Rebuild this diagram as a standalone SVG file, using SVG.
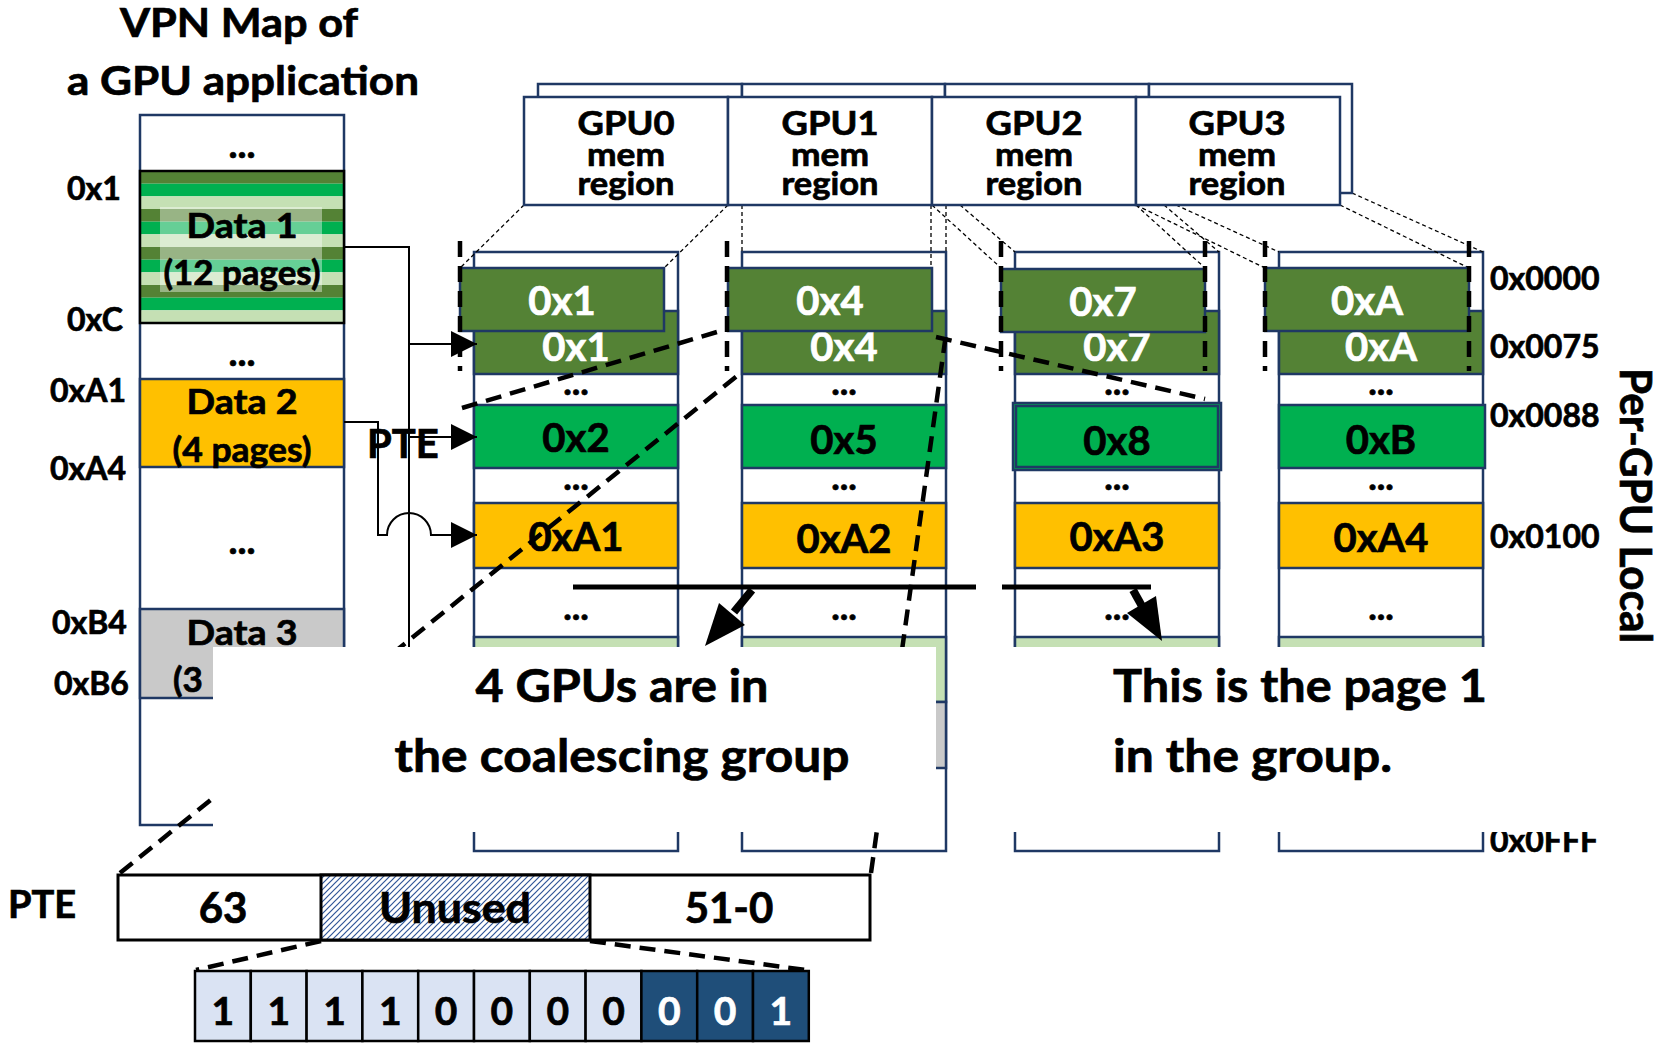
<svg xmlns="http://www.w3.org/2000/svg" width="1665" height="1045" viewBox="0 0 1665 1045">
  <style>
    .t { font-family: Lato, "Open Sans", "Liberation Sans", sans-serif; font-weight: 700; fill: #000; stroke: #000; stroke-width: 0.7; }
    .c { text-anchor: middle; }
    .w { fill: #fff; stroke: #fff; }
    .nb { stroke: #1F3864; stroke-width: 2.5; }
    .dg { fill: #548235; }
    .g { fill: #00B050; }
    .lg { fill: #C5E0B4; }
    .or { fill: #FFC000; }
    .gr { fill: #C9C9C9; }
    .wh { fill: #fff; }
    .thin { stroke: #000; stroke-width: 1.3; stroke-dasharray: 4 3; fill: none; }
    .thick { stroke: #000; stroke-width: 4.5; stroke-dasharray: 16 9; fill: none; }
    .conn { stroke: #000; stroke-width: 2; fill: none; }
    .bit { stroke: #000; stroke-width: 2.5; }
  </style>
  <defs>
    <marker id="ah" markerUnits="userSpaceOnUse" markerWidth="26" markerHeight="26" viewBox="0 0 26 26" refX="26" refY="13" orient="auto">
      <path d="M0,0 L26,13 L0,26 z" fill="#000"/>
    </marker>
    <pattern id="hatch" patternUnits="userSpaceOnUse" width="6" height="6">
      <rect width="6" height="6" fill="#fff"/>
      <path d="M-1,1 L1,-1 M0,6 L6,0 M5,7 L7,5" stroke="#2F5597" stroke-width="1.2"/>
    </pattern>
  </defs>

  <rect width="1665" height="1045" fill="#fff"/>

  <!-- title -->
  <g id="title">
    <text class="t c" x="239" y="37" font-size="40" textLength="238" lengthAdjust="spacingAndGlyphs">VPN Map of</text>
    <text class="t c" x="243" y="95" font-size="41" textLength="352" lengthAdjust="spacingAndGlyphs">a GPU application</text>
  </g>

  <!-- virtual page map of the application -->
  <g id="vpn-map">
    <rect class="wh nb" x="140" y="115" width="204" height="710"/>
    <g id="data1">
      <rect class="dg" x="140" y="171" width="204" height="12.67"/>
      <rect class="g" x="140" y="183.67" width="204" height="12.67"/>
      <rect class="lg" x="140" y="196.33" width="204" height="12.67"/>
      <rect class="dg" x="140" y="209" width="204" height="12.67"/>
      <rect class="g" x="140" y="221.67" width="204" height="12.67"/>
      <rect class="lg" x="140" y="234.33" width="204" height="12.67"/>
      <rect class="dg" x="140" y="247" width="204" height="12.67"/>
      <rect class="g" x="140" y="259.67" width="204" height="12.67"/>
      <rect class="lg" x="140" y="272.33" width="204" height="12.67"/>
      <rect class="dg" x="140" y="285" width="204" height="12.67"/>
      <rect class="g" x="140" y="297.67" width="204" height="12.67"/>
      <rect class="lg" x="140" y="310.33" width="204" height="12.67"/>
      <rect x="140" y="171" width="204" height="152" fill="none" stroke="#000" stroke-width="2.5"/>
      <rect x="160" y="207" width="162" height="85" fill="#fff" fill-opacity="0.4"/>
      <text class="t c" x="242" y="238" font-size="35" textLength="111" lengthAdjust="spacingAndGlyphs">Data 1</text>
      <text class="t c" x="242" y="285" font-size="35" textLength="157" lengthAdjust="spacingAndGlyphs">(12 pages)</text>
    </g>
    <g id="data2">
      <rect class="or nb" x="140" y="379" width="204" height="88"/>
      <text class="t c" x="242" y="414" font-size="35" textLength="111" lengthAdjust="spacingAndGlyphs">Data 2</text>
      <text class="t c" x="242" y="462" font-size="35" textLength="139" lengthAdjust="spacingAndGlyphs">(4 pages)</text>
    </g>
    <g id="data3">
      <rect class="gr nb" x="140" y="609" width="204" height="89"/>
      <text class="t c" x="242" y="645" font-size="35" textLength="111" lengthAdjust="spacingAndGlyphs">Data 3</text>
      <text class="t" x="173" y="692" font-size="35">(3</text>
    </g>
    <text class="t c" x="242" y="158" font-size="38">...</text>
    <text class="t c" x="242" y="366" font-size="38">...</text>
    <text class="t c" x="242" y="554" font-size="38">...</text>
    <text class="t" x="67" y="200" font-size="32">0x1</text>
    <text class="t" x="67" y="331" font-size="32">0xC</text>
    <text class="t" x="50" y="402" font-size="32">0xA1</text>
    <text class="t" x="50" y="480" font-size="32">0xA4</text>
    <text class="t" x="52" y="634" font-size="32">0xB4</text>
    <text class="t" x="54" y="695" font-size="32">0xB6</text>
  </g>

  <!-- per-GPU local memory columns -->
  <g id="gpu0-col">
    <rect class="wh nb" x="474" y="252" width="204" height="599"/>
    <rect class="dg nb" x="474" y="311" width="204" height="63"/>
    <rect class="g nb" x="474" y="405" width="204" height="63"/>
    <rect class="or nb" x="474" y="503" width="204" height="65"/>
    <rect class="lg nb" x="474" y="637" width="204" height="65"/>
    <rect class="gr nb" x="474" y="702" width="204" height="66"/>
    <text class="t c w" x="576" y="361" font-size="40">0x1</text>
    <text class="t c" x="576" y="395" font-size="36">...</text>
    <text class="t c" x="576" y="452" font-size="40">0x2</text>
    <text class="t c" x="576" y="490" font-size="36">...</text>
    <text class="t c" x="576" y="551" font-size="40">0xA1</text>
    <text class="t c" x="576" y="620" font-size="36">...</text>
  </g>
  <g id="gpu1-col">
    <rect class="wh nb" x="742" y="252" width="204" height="599"/>
    <rect class="dg nb" x="742" y="311" width="204" height="63"/>
    <rect class="g nb" x="742" y="405" width="204" height="63"/>
    <rect class="or nb" x="742" y="503" width="204" height="65"/>
    <rect class="lg nb" x="742" y="637" width="204" height="65"/>
    <rect class="gr nb" x="742" y="702" width="204" height="66"/>
    <text class="t c w" x="844" y="361" font-size="40">0x4</text>
    <text class="t c" x="844" y="395" font-size="36">...</text>
    <text class="t c" x="844" y="454" font-size="40">0x5</text>
    <text class="t c" x="844" y="490" font-size="36">...</text>
    <text class="t c" x="844" y="553" font-size="40">0xA2</text>
    <text class="t c" x="844" y="620" font-size="36">...</text>
  </g>
  <g id="gpu2-col">
    <rect class="wh nb" x="1015" y="252" width="204" height="599"/>
    <rect class="dg nb" x="1015" y="311" width="204" height="63"/>
    <rect class="g nb" x="1013" y="403" width="208" height="67"/>
    <rect class="g nb" x="1016" y="406" width="202" height="61"/>
    <rect class="or nb" x="1015" y="503" width="204" height="65"/>
    <rect class="lg nb" x="1015" y="637" width="204" height="65"/>
    <rect class="gr nb" x="1015" y="702" width="204" height="66"/>
    <text class="t c w" x="1117" y="361" font-size="40">0x7</text>
    <text class="t c" x="1117" y="395" font-size="36">...</text>
    <text class="t c" x="1117" y="455" font-size="40">0x8</text>
    <text class="t c" x="1117" y="490" font-size="36">...</text>
    <text class="t c" x="1117" y="551" font-size="40">0xA3</text>
    <text class="t c" x="1117" y="620" font-size="36">...</text>
  </g>
  <g id="gpu3-col">
    <rect class="wh nb" x="1279" y="252" width="204" height="599"/>
    <rect class="dg nb" x="1279" y="311" width="204" height="63"/>
    <rect class="g nb" x="1279" y="405" width="206" height="63"/>
    <rect class="or nb" x="1279" y="503" width="204" height="65"/>
    <rect class="lg nb" x="1279" y="637" width="204" height="65"/>
    <rect class="gr nb" x="1279" y="702" width="204" height="66"/>
    <text class="t c w" x="1381" y="361" font-size="40">0xA</text>
    <text class="t c" x="1381" y="395" font-size="36">...</text>
    <text class="t c" x="1381" y="454" font-size="40">0xB</text>
    <text class="t c" x="1381" y="490" font-size="36">...</text>
    <text class="t c" x="1381" y="552" font-size="40">0xA4</text>
    <text class="t c" x="1381" y="620" font-size="36">...</text>
  </g>

  <!-- projection lines from the memory regions down to the columns -->
  <g id="projection">
    <path class="thin" d="M524,205 L460,268 M728,205 L664,268"/>
    <path class="thin" d="M742,205 L742,252 M931,205 L931,268 M946,205 L946,252"/>
    <path class="thin" d="M932,205 L1001,268 M960,205 L1015,252 M1136,205 L1205,268 M1164,205 L1219,252"/>
    <path class="thin" d="M1136,205 L1265,268 M1176,205 L1279,252 M1340,205 L1469,268 M1352,193 L1483,252"/>
  </g>

  <!-- memory regions -->
  <g id="regions-back">
    <rect class="wh nb" x="538" y="84" width="204" height="109"/>
    <rect class="wh nb" x="742" y="84" width="203" height="109"/>
    <rect class="wh nb" x="945" y="84" width="204" height="109"/>
    <rect class="wh nb" x="1149" y="84" width="203" height="109"/>
  </g>
  <g id="gpu0-region">
    <rect class="wh nb" x="524" y="97" width="204" height="108"/>
    <text class="t c" x="626" y="135" font-size="33" textLength="97" lengthAdjust="spacingAndGlyphs">GPU0</text>
    <text class="t c" x="626" y="166" font-size="32" textLength="78" lengthAdjust="spacingAndGlyphs">mem</text>
    <text class="t c" x="626" y="195" font-size="32" textLength="97" lengthAdjust="spacingAndGlyphs">region</text>
  </g>
  <g id="gpu1-region">
    <rect class="wh nb" x="728" y="97" width="204" height="108"/>
    <text class="t c" x="830" y="135" font-size="33" textLength="97" lengthAdjust="spacingAndGlyphs">GPU1</text>
    <text class="t c" x="830" y="166" font-size="32" textLength="78" lengthAdjust="spacingAndGlyphs">mem</text>
    <text class="t c" x="830" y="195" font-size="32" textLength="97" lengthAdjust="spacingAndGlyphs">region</text>
  </g>
  <g id="gpu2-region">
    <rect class="wh nb" x="932" y="97" width="204" height="108"/>
    <text class="t c" x="1034" y="135" font-size="33" textLength="97" lengthAdjust="spacingAndGlyphs">GPU2</text>
    <text class="t c" x="1034" y="166" font-size="32" textLength="78" lengthAdjust="spacingAndGlyphs">mem</text>
    <text class="t c" x="1034" y="195" font-size="32" textLength="97" lengthAdjust="spacingAndGlyphs">region</text>
  </g>
  <g id="gpu3-region">
    <rect class="wh nb" x="1136" y="97" width="204" height="108"/>
    <text class="t c" x="1237" y="135" font-size="33" textLength="97" lengthAdjust="spacingAndGlyphs">GPU3</text>
    <text class="t c" x="1237" y="166" font-size="32" textLength="78" lengthAdjust="spacingAndGlyphs">mem</text>
    <text class="t c" x="1237" y="195" font-size="32" textLength="97" lengthAdjust="spacingAndGlyphs">region</text>
  </g>

  <!-- first page of each GPU, raised -->
  <g id="gpu0-page">
    <rect class="dg nb" x="460" y="268" width="204" height="63"/>
    <text class="t c w" x="562" y="315" font-size="40">0x1</text>
  </g>
  <g id="gpu1-page">
    <rect class="dg nb" x="728" y="268" width="204" height="63"/>
    <text class="t c w" x="830" y="315" font-size="40">0x4</text>
  </g>
  <g id="gpu2-page">
    <rect class="dg nb" x="1001" y="269" width="204" height="63"/>
    <text class="t c w" x="1103" y="316" font-size="40">0x7</text>
  </g>
  <g id="gpu3-page">
    <rect class="dg nb" x="1265" y="268" width="204" height="63"/>
    <text class="t c w" x="1367" y="315" font-size="40">0xA</text>
  </g>

  <!-- connectors -->
  <g id="connectors">
    <path class="thick" d="M460,241 V371 M727,241 V371 M1001,241 V371 M1205,241 V371 M1265,241 V371 M1469,241 V371"/>
    <path class="thick" d="M462,408 L727,329"/>
    <path class="thick" d="M936,337 L1205,399"/>
    <path class="thick" d="M120,873 L742,372"/>
    <path class="thick" d="M871,873 L946,334"/>

    <path class="conn" d="M344,247 H409 V700"/>
    <path class="conn" d="M409,344 H477" marker-end="url(#ah)"/>
    <path class="conn" d="M409,437 H477" marker-end="url(#ah)"/>
    <path class="conn" d="M344,422 H378 V535 H387 A22,22 0 0 1 431,535 H477" marker-end="url(#ah)"/>

    <path d="M573,587 H976 M1002,587 H1151" stroke="#000" stroke-width="5" fill="none"/>
    <path d="M752,590 L734,612" stroke="#000" stroke-width="8" fill="none"/>
    <polygon points="705,646 745,625 719,603" fill="#000"/>
    <path d="M1133,590 L1143,608" stroke="#000" stroke-width="8" fill="none"/>
    <polygon points="1162,641 1127,613 1156,596" fill="#000"/>
  </g>

  <text class="t" x="367" y="458" font-size="40">PTE</text>

  <!-- local address marks -->
  <g id="local-addr">
    <text class="t" x="1490" y="290" font-size="32">0x0000</text>
    <text class="t" x="1490" y="358" font-size="32">0x0075</text>
    <text class="t" x="1490" y="427" font-size="32">0x0088</text>
    <text class="t" x="1490" y="548" font-size="32">0x0100</text>
    <text class="t" x="1490" y="852" font-size="32">0x0FFF</text>
    <text class="t" transform="translate(1620,368) rotate(90)" font-size="44" textLength="275" lengthAdjust="spacingAndGlyphs">Per-GPU Local</text>
  </g>

  <!-- callouts -->
  <g id="callout-group">
    <rect x="213" y="647" width="723" height="185" fill="#fff"/>
    <text class="t c" x="622" y="702" font-size="46" textLength="293" lengthAdjust="spacingAndGlyphs">4 GPUs are in</text>
    <text class="t c" x="622" y="772" font-size="46" textLength="455" lengthAdjust="spacingAndGlyphs">the coalescing group</text>
  </g>
  <g id="callout-page">
    <rect x="950" y="647" width="715" height="185" fill="#fff"/>
    <text class="t" x="1113" y="702" font-size="46" textLength="374" lengthAdjust="spacingAndGlyphs">This is the page 1</text>
    <text class="t" x="1113" y="772" font-size="46" textLength="279" lengthAdjust="spacingAndGlyphs">in the group.</text>
  </g>

  <!-- page table entry layout -->
  <g id="pte-entry">
    <text class="t" x="8" y="918" font-size="38">PTE</text>
    <rect x="118" y="875" width="752" height="65" fill="#fff" stroke="#000" stroke-width="3"/>
    <rect x="321" y="875" width="269" height="65" fill="url(#hatch)" stroke="#000" stroke-width="3"/>
    <text class="t c" x="223" y="923" font-size="42">63</text>
    <text class="t c" x="455" y="923" font-size="42" textLength="152" lengthAdjust="spacingAndGlyphs">Unused</text>
    <text class="t c" x="729" y="923" font-size="42">51-0</text>
  </g>
  <g id="pte-expand">
    <path class="thick" d="M321,941 L196,970 M590,941 L806,970"/>
  </g>
  <g id="pte-bits">
    <rect class="bit" x="195" y="971" width="55.8" height="70" fill="#DAE3F3"/>
    <rect class="bit" x="250.8" y="971" width="55.8" height="70" fill="#DAE3F3"/>
    <rect class="bit" x="306.6" y="971" width="55.8" height="70" fill="#DAE3F3"/>
    <rect class="bit" x="362.4" y="971" width="55.8" height="70" fill="#DAE3F3"/>
    <rect class="bit" x="418.2" y="971" width="55.8" height="70" fill="#DAE3F3"/>
    <rect class="bit" x="474" y="971" width="55.8" height="70" fill="#DAE3F3"/>
    <rect class="bit" x="529.8" y="971" width="55.8" height="70" fill="#DAE3F3"/>
    <rect class="bit" x="585.6" y="971" width="55.8" height="70" fill="#DAE3F3"/>
    <rect class="bit" x="641.4" y="971" width="55.8" height="70" fill="#1F4E79"/>
    <rect class="bit" x="697.2" y="971" width="55.8" height="70" fill="#1F4E79"/>
    <rect class="bit" x="753" y="971" width="55.8" height="70" fill="#1F4E79"/>
    <text class="t c" x="222.9" y="1025" font-size="39">1</text>
    <text class="t c" x="278.7" y="1025" font-size="39">1</text>
    <text class="t c" x="334.5" y="1025" font-size="39">1</text>
    <text class="t c" x="390.3" y="1025" font-size="39">1</text>
    <text class="t c" x="446.1" y="1025" font-size="39">0</text>
    <text class="t c" x="501.9" y="1025" font-size="39">0</text>
    <text class="t c" x="557.7" y="1025" font-size="39">0</text>
    <text class="t c" x="613.5" y="1025" font-size="39">0</text>
    <text class="t c w" x="669.3" y="1025" font-size="39">0</text>
    <text class="t c w" x="725.1" y="1025" font-size="39">0</text>
    <text class="t c w" x="780.9" y="1025" font-size="39">1</text>
  </g>
</svg>
